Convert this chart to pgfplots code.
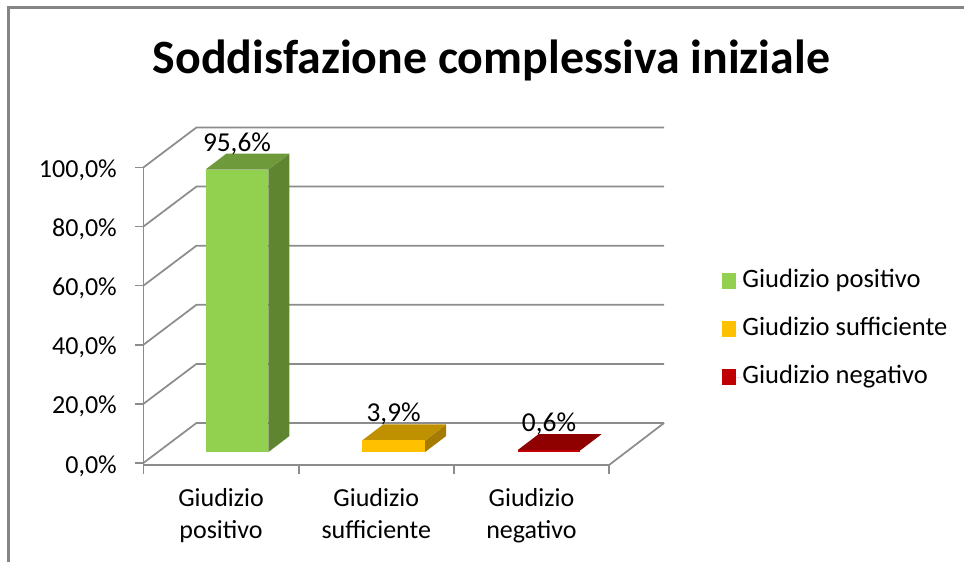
\documentclass[border=0pt]{standalone}
\usepackage{pgfplots}
\pgfplotsset{compat=1.18}
\usepackage{fontspec}
\setmainfont{Carlito}
\definecolor{gridc}{HTML}{8C8C8C}
\definecolor{framec}{HTML}{858585}
\definecolor{gf}{HTML}{92D050}
\definecolor{gt}{HTML}{6E9A3C}
\definecolor{gs}{HTML}{5F8531}
\definecolor{of}{HTML}{FFC000}
\definecolor{ot}{HTML}{BF9000}
\definecolor{os}{HTML}{A67C00}
\definecolor{rf}{HTML}{C00000}
\definecolor{rt}{HTML}{8F0000}
\newcommand{\lab}{\fontsize{19.5pt}{24pt}\selectfont}
\begin{document}
\begin{tikzpicture}
\path[use as bounding box] (0,0) rectangle (723pt,421.5pt);
\draw[framec,line width=1.8pt] (6.5pt,0) -- (6.5pt,416pt) -- (723pt,416pt);
\node[font=\fontsize{35.9pt}{40pt}\selectfont\bfseries,text=black] at (368.5pt,376.5pt) {Soddisfazione complessiva iniziale};
% grid, walls and axis
\begin{axis}[
  at={(107.6pt,72.75pt)},anchor=south west,scale only axis,
  width=349.2pt,height=223.2pt,
  xmin=0,xmax=3,ymin=-0.7,ymax=100,clip=false,
  axis lines=left,axis line style={-,gridc,line width=1.3pt},
  tick align=outside,
  tick style={gridc,line width=1.3pt},
  major tick length=6.5pt,
  ytick={0,20,40,60,80,100},
  yticklabels={{0,0\%},{20,0\%},{40,0\%},{60,0\%},{80,0\%},{100,0\%}},
  xtick={0,1,2,3},
  x tick label as interval=true,
  xticklabels={{Giudizio\\positivo},{Giudizio\\sufficiente},{Giudizio\\negativo}},
  xticklabel style={align=center,font=\lab,yshift=-7.5pt},
  yticklabel style={font=\lab,xshift=-10pt,yshift=-2.2pt},
]
\pgfplotsinvokeforeach{0,20,40,60,80,100}{
  \addplot[gridc,line width=1.3pt,forget plot] coordinates {(0,#1) (0.341,#1+13.5) (3.354,#1+13.5)};
}
\addplot[gridc,line width=1.3pt,forget plot] coordinates {(3,-0.7) (3.354,13.5)};
\end{axis}
% bars
\begin{axis}[
  at={(107.6pt,82.5pt)},anchor=south west,scale only axis,
  width=349.2pt,height=221.6pt,
  xmin=0,xmax=3,ymin=0,ymax=100,clip=false,hide axis,
  legend style={at={(axis cs:3.724,62)},anchor=north west,draw=none,fill=none,
    font=\fontsize{19.9pt}{24pt}\selectfont,row sep=18pt,inner sep=0pt,
    nodes={inner sep=0pt,text height=14pt,text depth=4pt}},
  legend cell align=left,
  legend image code/.code={\fill[#1] (0pt,-5.7pt) rectangle (11pt,5.7pt);\path (0pt,0pt) -- (15.5pt,0pt);},
  nodes near coords align={center},
  every node near coord/.append style={font=\fontsize{20.5pt}{24pt}\selectfont,text=black,anchor=center},
]
% side and top faces
\addplot[fill=gs,draw=none,forget plot] coordinates {(0.8055,0) (0.9405,5.41) (0.9405,101.01) (0.8055,95.6)} --cycle;
\addplot[fill=gt,draw=none,forget plot] coordinates {(0.3995,95.6) (0.8055,95.6) (0.9405,101.01) (0.5345,101.01)} --cycle;
\addplot[fill=os,draw=none,forget plot] coordinates {(1.815,0) (1.95,5.41) (1.95,9.31) (1.815,3.9)} --cycle;
\addplot[fill=ot,draw=none,forget plot] coordinates {(1.409,3.9) (1.815,3.9) (1.95,9.31) (1.544,9.31)} --cycle;
\addplot[fill=rt,draw=none,forget plot] coordinates {(2.41,0.6) (2.816,0.6) (2.951,6.01) (2.545,6.01)} --cycle;
% front faces
\addplot[ybar,bar width=47.2pt,bar shift=0pt,fill=gf,draw=none,
  nodes near coords={95,6\%},every node near coord/.append style={yshift=19pt}] coordinates {(0.6025,95.6)};
\addlegendentry{Giudizio positivo}
\addplot[ybar,bar width=47.2pt,bar shift=0pt,fill=of,draw=none,
  nodes near coords={3,9\%},every node near coord/.append style={yshift=20pt}] coordinates {(1.612,3.9)};
\addlegendentry{Giudizio sufficiente}
\addplot[ybar,bar width=47.2pt,bar shift=0pt,fill=rf,draw=none,
  nodes near coords={0,6\%},every node near coord/.append style={yshift=20pt}] coordinates {(2.613,0.6)};
\addlegendentry{Giudizio negativo}
\end{axis}
\end{tikzpicture}
\end{document}
